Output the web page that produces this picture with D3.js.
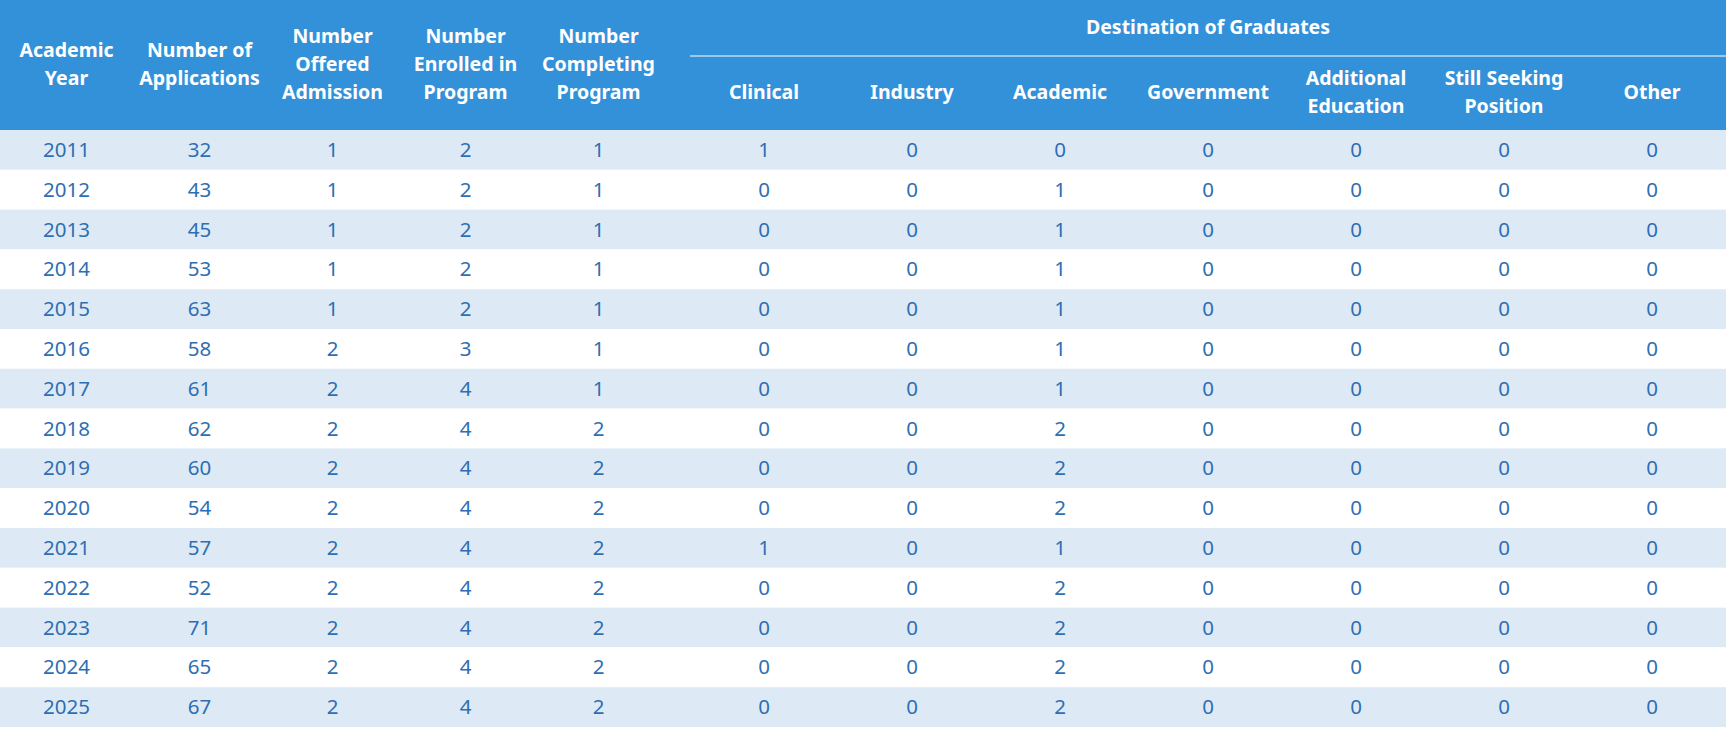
<!DOCTYPE html>
<html><head><meta charset="utf-8">
<script src="https://cdn.jsdelivr.net/npm/d3@7"></script>
<style>body{margin:0;background:#fff}</style>
</head><body>
<div id="chart"></div>
<script>
// table data
var years = [2011,2012,2013,2014,2015,2016,2017,2018,2019,2020,2021,2022,2023,2024,2025];
var applications = [32,43,45,53,63,58,61,62,60,54,57,52,71,65,67];
var offered = [1,1,1,1,1,2,2,2,2,2,2,2,2,2,2];
var enrolled = [2,2,2,2,2,3,4,4,4,4,4,4,4,4,4];
var completing = [1,1,1,1,1,1,1,2,2,2,2,2,2,2,2];
var clinical = [1,0,0,0,0,0,0,0,0,0,1,0,0,0,0];
var industry = [0,0,0,0,0,0,0,0,0,0,0,0,0,0,0];
var academic = [0,1,1,1,1,1,1,2,2,2,1,2,2,2,2];
var government = [0,0,0,0,0,0,0,0,0,0,0,0,0,0,0];
var additional = [0,0,0,0,0,0,0,0,0,0,0,0,0,0,0];
var seeking = [0,0,0,0,0,0,0,0,0,0,0,0,0,0,0];
var other = [0,0,0,0,0,0,0,0,0,0,0,0,0,0,0];

var leftHeaders = [["Academic","Year"],["Number of","Applications"],["Number","Offered","Admission"],["Number","Enrolled in","Program"],["Number","Completing","Program"]];
var groupTitle = "Destination of Graduates";
var groupHeaders = [["Clinical"],["Industry"],["Academic"],["Government"],["Additional","Education"],["Still Seeking","Position"],["Other"]];
var leftCols = [years, applications, offered, enrolled, completing];
var groupCols = [clinical, industry, academic, government, additional, seeking, other];

var W = 1726, H = 737, headH = 130, rowH = 39.8, groupX = 690;
var svg = d3.select("#chart").append("svg").attr("width", W).attr("height", H)
  .style("font-family", "'Noto Sans', sans-serif");

var xl = d3.scaleBand().domain(d3.range(5)).range([0, 665]);
var xg = d3.scaleBand().domain(d3.range(7)).range([groupX, W]);
var y = d3.scaleBand().domain(d3.range(years.length)).range([headH, headH + rowH*years.length]);

svg.append("rect").attr("x",0).attr("y",0).attr("width",W).attr("height",headH).attr("fill","#3391d9");
svg.selectAll("rect.row").data(years).enter().append("rect").attr("class","row")
  .attr("x",0).attr("y",(d,i)=>y(i)).attr("width",W).attr("height",y.bandwidth())
  .attr("fill",(d,i)=> i%2==0 ? "#ddeaf6" : "#ffffff");

function header(lines, cx, cy){
  var t = svg.append("text").attr("x",cx).attr("text-anchor","middle").attr("fill","#fff")
    .attr("font-weight","bold").attr("font-size",19.5);
  var lh = 28, y0 = cy - (lines.length-1)*lh/2 + 7;
  lines.forEach((l,i)=> t.append("tspan").attr("x",cx).attr("y",y0+i*lh).text(l));
}
leftHeaders.forEach((h,i)=> header(h, xl(i)+xl.bandwidth()/2, 64));
groupHeaders.forEach((h,i)=> header(h, xg(i)+xg.bandwidth()/2, 92));
svg.append("text").attr("x",(groupX+W)/2).attr("y",34).attr("text-anchor","middle").attr("fill","#fff")
  .attr("font-weight","bold").attr("font-size",19.5).text(groupTitle);
svg.append("line").attr("x1",groupX).attr("x2",W).attr("y1",56).attr("y2",56).attr("stroke","#fff").attr("stroke-width",1.2);

function column(vals, cx){
  svg.append("g").selectAll("text").data(vals).enter().append("text")
    .attr("x",cx).attr("y",(d,i)=>y(i)+y.bandwidth()/2+7).attr("text-anchor","middle")
    .attr("fill","#2e6eb3").attr("font-size",20.5).text(d=>d);
}
leftCols.forEach((c,i)=> column(c, xl(i)+xl.bandwidth()/2));
groupCols.forEach((c,i)=> column(c, xg(i)+xg.bandwidth()/2));
</script>
</body></html>
